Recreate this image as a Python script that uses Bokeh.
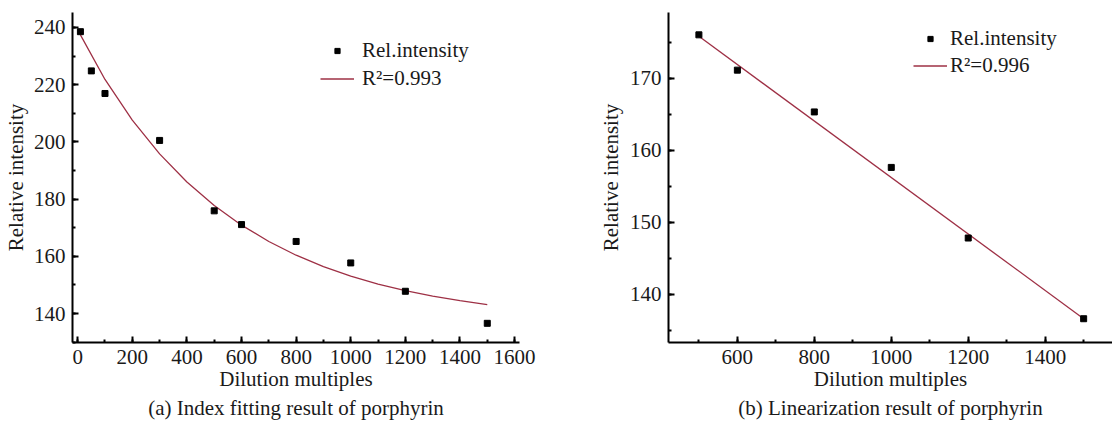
from bokeh.plotting import figure
from bokeh.layouts import row
from bokeh.models import Legend, LegendItem, SingleIntervalTicker, Title, Range1d
from bokeh.embed import file_html
from bokeh.resources import INLINE

# ---- data: (a) index fitting ----
dilution_a = [10, 50, 100, 300, 500, 600, 800, 1000, 1200, 1500]
intensity_a = [238.5, 224.8, 216.9, 200.5, 175.9, 171.1, 165.2, 157.7, 147.8, 136.6]
fit_x_a = [10, 100, 200, 300, 400, 500, 600, 700, 800, 900, 1000, 1100, 1200, 1300, 1400, 1500]
fit_y_a = [237.4, 221.8, 207.6, 195.8, 186.0, 177.8, 170.9, 165.2, 160.4, 156.4,
           153.1, 150.3, 148.0, 146.1, 144.5, 143.1]
label_pts_a = "Rel.intensity"
label_fit_a = "R\u00b2=0.993"
caption_a = "(a) Index fitting result of porphyrin"

# ---- data: (b) linearization ----
dilution_b = [500, 600, 800, 1000, 1200, 1500]
intensity_b = [176.0, 171.1, 165.3, 157.6, 147.8, 136.6]
fit_x_b = [500, 1500]
fit_y_b = [175.8, 136.6]
label_pts_b = "Rel.intensity"
label_fit_b = "R\u00b2=0.996"
caption_b = "(b) Linearization result of porphyrin"

x_title = "Dilution multiples"
y_title = "Relative intensity"

FONT = "'Liberation Serif', 'Times New Roman', serif"
FS = "21px"
LINE_COLOR = "#9e3045"


def style_axes(p, xint, yint, ylabel_standoff):
    p.grid.visible = False
    p.outline_line_color = None
    p.background_fill_color = "white"
    p.border_fill_color = "white"
    p.xaxis.ticker = SingleIntervalTicker(interval=xint, num_minor_ticks=2)
    p.yaxis.ticker = SingleIntervalTicker(interval=yint, num_minor_ticks=2)
    for ax in (p.xaxis[0], p.yaxis[0]):
        ax.axis_line_width = 2
        ax.axis_line_color = "black"
        ax.major_tick_line_width = 2
        ax.minor_tick_line_width = 2
        ax.major_tick_in = 6
        ax.major_tick_out = 0
        ax.minor_tick_in = 3
        ax.minor_tick_out = 0
        ax.major_label_text_font = FONT
        ax.major_label_text_font_size = FS
        ax.major_label_text_color = "#1a1a1a"
        ax.axis_label_text_font = FONT
        ax.axis_label_text_font_size = FS
        ax.axis_label_text_font_style = "normal"
        ax.axis_label_text_color = "#1a1a1a"
    p.xaxis.major_label_standoff = 7
    p.xaxis.axis_label_standoff = 0
    p.yaxis.major_label_standoff = 7
    p.yaxis.axis_label_standoff = ylabel_standoff
    p.xaxis.axis_label = x_title
    p.yaxis.axis_label = y_title


def make_legend(p, r_pts, r_line, lab1, lab2, loc, standoff, spacing):
    lg = Legend(items=[LegendItem(label=lab1, renderers=[r_pts]),
                       LegendItem(label=lab2, renderers=[r_line])],
                location=loc, padding=0, margin=0, spacing=spacing,
                glyph_width=34, glyph_height=13, label_height=20,
                label_standoff=standoff,
                label_text_font=FONT, label_text_font_size=FS,
                label_text_color="#1a1a1a",
                border_line_color=None, background_fill_alpha=0)
    p.add_layout(lg)


def add_caption(p, text):
    p.add_layout(Title(text=text, align="center", text_font=FONT,
                       text_font_size=FS, text_font_style="normal",
                       text_color="#1a1a1a", standoff=0), "below")


# ---- figure (a) ----
p1 = figure(width=590, height=424, x_range=Range1d(-19, 1618), y_range=Range1d(129.9, 245.2),
            output_backend="svg", toolbar_location=None,
            min_border_left=72, min_border_right=71, min_border_top=12, min_border_bottom=82)
style_axes(p1, 200, 20, 3)
l1 = p1.line(fit_x_a, fit_y_a, line_color=LINE_COLOR, line_width=1.3)
s1 = p1.scatter(dilution_a, intensity_a, marker="square", size=6, color="black")
make_legend(p1, s1, l1, label_pts_a, label_fit_a, (248, 251), 8, 3)
add_caption(p1, caption_a)

# ---- figure (b) ----
p2 = figure(width=522, height=424, x_range=Range1d(421, 1575), y_range=Range1d(133.3, 179.1),
            output_backend="svg", toolbar_location=None,
            min_border_left=78, min_border_right=0, min_border_top=12, min_border_bottom=82)
style_axes(p2, 200, 10, 4)
l2 = p2.line(fit_x_b, fit_y_b, line_color=LINE_COLOR, line_width=1.3)
s2 = p2.scatter(dilution_b, intensity_b, marker="square", size=6, color="black")
make_legend(p2, s2, l2, label_pts_b, label_fit_b, (245, 264), 3, 2)
add_caption(p2, caption_b)

layout = row(p1, p2)
open("out.html", "w").write(file_html(layout, INLINE))
